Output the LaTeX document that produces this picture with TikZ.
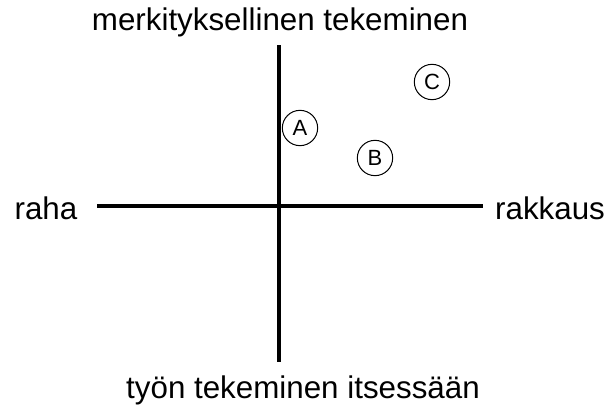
\documentclass[tikz,border=0pt]{standalone}
\usepackage{fontspec}
\setmainfont{Liberation Sans}
\begin{document}
\begin{tikzpicture}[x=0.75pt,y=-0.75pt,
  axis/.style={line width=2.3pt},
  lbl/.style={font=\fontsize{23.5}{26}\selectfont, inner sep=0pt, anchor=base},
  pt/.style={draw, circle, line width=0.75pt, minimum size=26.5pt, inner sep=0pt, font=\fontsize{16.5}{18}\selectfont}]
\useasboundingbox (0,0) rectangle (611,407);
\coordinate (top) at (279,45);
\coordinate (bot) at (279,362);
\coordinate (left) at (97,206);
\coordinate (right) at (483,206);
\draw[axis] (top) -- (bot);
\draw[axis] (left) -- (right);
\node[lbl] (t) at (280,31) {merkityksellinen tekeminen};
\node[lbl] (b) at (303,398) {työn tekeminen itsessään};
\node[lbl] (l) at (46,219) {raha};
\node[lbl] (r) at (550,219) {rakkaus};
\node[pt] (A) at (300,128) {A};
\node[pt] (B) at (375,158) {B};
\node[pt] (C) at (432,82) {C};
\end{tikzpicture}
\end{document}
